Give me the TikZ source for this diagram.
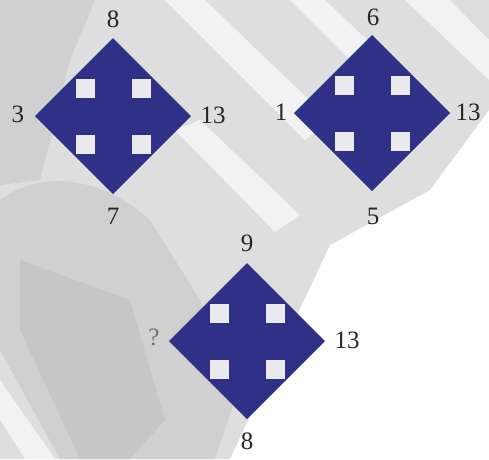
\documentclass[tikz,border=0pt]{standalone}
\usepackage{fontspec}
\setmainfont{Liberation Serif}
\definecolor{iconblue}{RGB}{48,48,134}
\definecolor{notch}{RGB}{234,234,238}
\definecolor{bgA}{RGB}{222,222,222}
\definecolor{bgB}{RGB}{208,208,208}
\definecolor{bgC}{RGB}{198,198,198}
\definecolor{bgW}{RGB}{242,242,242}
\tikzset{
  lbl/.style={inner sep=0pt, font=\fontsize{25}{28}\selectfont, text=black!85},
  moveicon/.pic={
    \fill[iconblue] (-78,0) -- (0,-78) -- (78,0) -- (0,78) -- cycle;
    \foreach \sx in {-1,1}{\foreach \sy in {-1,1}{
      \fill[notch] ({\sx*28-9.5},{\sy*28-9.5}) rectangle +(19,19);}}
  }
}
\begin{document}
\begin{tikzpicture}[x=1pt,y=-1pt]
\useasboundingbox (0,0) rectangle (489,459);
\fill[white] (0,0) rectangle (489,459);
\fill[bgA] (0,0) -- (489,0) -- (489,110) -- (430,190) -- (330,245) -- (290,330) -- (230,459) -- (0,459) -- cycle;
\fill[bgW] (165,0) -- (205,0) -- (330,120) -- (305,140) -- cycle;
\fill[bgW] (290,0) -- (325,0) -- (420,90) -- (400,110) -- cycle;
\fill[bgW] (405,0) -- (450,0) -- (489,40) -- (489,80) -- cycle;
\fill[bgW] (175,130) -- (200,120) -- (300,215) -- (275,232) -- cycle;
\fill[bgB] (0,0) -- (95,0) -- (70,60) -- (40,180) -- (0,185) -- cycle;
\fill[bgB] (0,200) .. controls (40,170) and (100,175) .. (150,220) -- (200,300) -- (235,400) -- (215,459) -- (60,459) -- (0,350) -- cycle;
\fill[bgC] (20,260) -- (130,300) -- (165,420) -- (130,459) -- (80,459) -- (20,330) -- cycle;
\fill[bgW] (0,380) -- (0,420) -- (25,459) -- (55,459) -- cycle;
\coordinate (d1) at (113,116);
\coordinate (d2) at (372,113);
\coordinate (d3) at (247,341);
\pic at (d1) {moveicon};
\pic at (d2) {moveicon};
\pic at (d3) {moveicon};
\node[lbl] (d1t) at (113,19) {8};
\node[lbl] (d1l) at (18,114) {3};
\node[lbl] (d1r) at (213,115) {13};
\node[lbl] (d1b) at (113,216) {7};
\node[lbl] (d2t) at (373,17) {6};
\node[lbl] (d2l) at (281,112) {1};
\node[lbl] (d2r) at (468,112) {13};
\node[lbl] (d2b) at (373,216) {5};
\node[lbl] (d3t) at (247,243) {9};
\node[lbl, text=black!55] (d3l) at (154,337) {?};
\node[lbl] (d3r) at (347,340) {13};
\node[lbl] (d3b) at (247,441) {8};
\end{tikzpicture}
\end{document}
